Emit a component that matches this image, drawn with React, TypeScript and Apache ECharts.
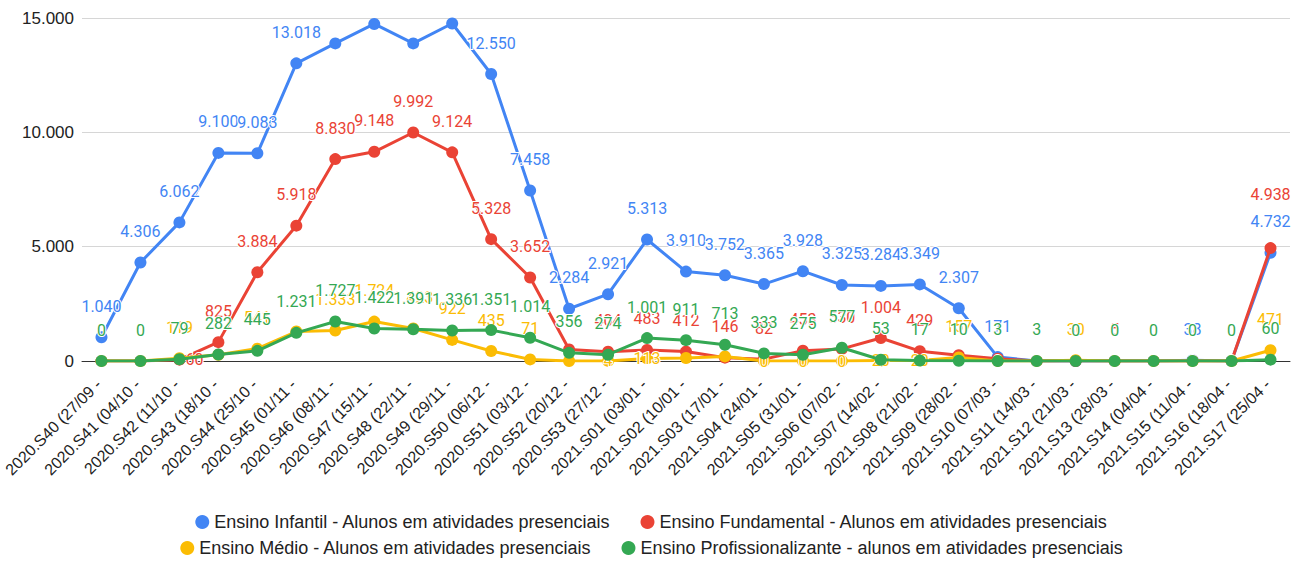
import React, { useEffect, useRef } from "react";
import * as echarts from "echarts";

const categories = [
  "2020.S40 (27/09 -", "2020.S41 (04/10 -", "2020.S42 (11/10 -", "2020.S43 (18/10 -",
  "2020.S44 (25/10 -", "2020.S45 (01/11 -", "2020.S46 (08/11 -", "2020.S47 (15/11 -",
  "2020.S48 (22/11 -", "2020.S49 (29/11 -", "2020.S50 (06/12 -", "2020.S51 (03/12 -",
  "2020.S52 (20/12 -", "2020.S53 (27/12 -", "2021.S01 (03/01 -", "2021.S02 (10/01 -",
  "2021.S03 (17/01 -", "2021.S04 (24/01 -", "2021.S05 (31/01 -", "2021.S06 (07/02 -",
  "2021.S07 (14/02 -", "2021.S08 (21/02 -", "2021.S09 (28/02 -", "2021.S10 (07/03 -",
  "2021.S11 (14/03 -", "2021.S12 (21/03 -", "2021.S13 (28/03 -", "2021.S14 (04/04 -",
  "2021.S15 (11/04 -", "2021.S16 (18/04 -", "2021.S17 (25/04 -",
];

const seriesNames = [
  "Ensino Infantil - Alunos em atividades presenciais",
  "Ensino Fundamental - Alunos em atividades presenciais",
  "Ensino Médio - Alunos em atividades presenciais",
  "Ensino Profissionalizante - alunos em atividades presenciais",
];

const infantil = [1040, 4306, 6062, 9100, 9083, 13018, 13890, 14740, 13890, 14760, 12550, 7458, 2284, 2921, 5313, 3910, 3752, 3365, 3928, 3325, 3284, 3349, 2307, 171, 0, 0, 0, 0, 38, 0, 4732];
const fundamental = [0, 0, 60, 825, 3884, 5918, 8830, 9148, 9992, 9124, 5328, 3652, 500, 404, 483, 412, 146, 82, 453, 530, 1004, 429, 250, 100, 0, 0, 5, 0, 0, 0, 4938];
const medio = [0, 0, 119, 270, 541, 1290, 1333, 1724, 1423, 922, 435, 71, 0, 4, 113, 130, 200, 0, 0, 0, 20, 20, 157, 0, 0, 30, 0, 0, 0, 0, 471];
const profissional = [0, 0, 79, 282, 445, 1231, 1727, 1422, 1391, 1336, 1351, 1014, 356, 274, 1001, 911, 713, 333, 275, 577, 53, 17, 10, 3, 3, 0, 0, 0, 0, 0, 60];

const yTicks = [0, 5000, 10000, 15000];

// label visibility / placement (indices)
const infantilHidden = [6, 7, 8, 9, 24, 25, 26, 27, 29];
const fundamentalHidden = [0, 1, 12, 22, 23, 24, 25, 27, 28, 29];
const fundamentalRight = [2];
const fundamentalRaised = [30];
const medioHidden = [3, 5, 12, 15, 16];
const medioInside = [0, 1, 13, 14, 17, 18, 19, 20, 21, 23, 24, 26, 27, 28, 29];

const colors = ["#4285F4", "#EA4335", "#FBBC04", "#34A853"];
const FONT = "Liberation Sans, Arial, sans-serif";

const fmt = (v: number) => String(v).replace(/\B(?=(\d{3})+(?!\d))/g, ".");

function build(values: number[], hidden: number[], inside: number[] = [], right: number[] = [], raised: number[] = []) {
  return values.map((v, i) => {
    if (hidden.includes(i)) return { value: v, label: { show: false } };
    if (inside.includes(i)) return { value: v, label: { position: "inside" } };
    if (right.includes(i)) return { value: v, label: { position: "right", distance: 0 } };
    if (raised.includes(i)) return { value: v, label: { distance: 40 } };
    return { value: v };
  });
}

export default function App() {
  const ref = useRef<HTMLDivElement>(null);
  useEffect(() => {
    if (!ref.current) return;
    const chart = echarts.init(ref.current, undefined, { renderer: "svg" });
    const mk = (idx: number, data: any[]) => ({
      name: seriesNames[idx],
      type: "line",
      data,
      color: colors[idx],
      symbol: "circle",
      symbolSize: 12,
      lineStyle: { width: 3 },
      z: 2 + idx,
      label: {
        show: true,
        position: "top",
        distance: 17,
        color: colors[idx],
        fontFamily: "Roboto",
        fontSize: 16,
        textBorderColor: "#fff",
        textBorderWidth: 2,
        formatter: (p: any) => fmt(p.value),
      },
    });
    const legendBase = {
      left: "center",
      icon: "circle",
      itemWidth: 14,
      itemHeight: 14,
      itemGap: 30,
      padding: 0,
      textStyle: { color: "#222", fontSize: 18, fontFamily: FONT },
    };
    chart.setOption({
      animation: false,
      backgroundColor: "#fff",
      grid: { left: 82, right: 13, top: 18, bottom: 200, outerBoundsMode: "none", containLabel: false },
      xAxis: {
        type: "category",
        data: categories,
        boundaryGap: true,
        axisTick: { show: false },
        axisLine: { lineStyle: { color: "#333", width: 1 } },
        axisLabel: {
          interval: 0,
          rotate: 45,
          margin: 18,
          padding: [0, 4, 0, 0],
          color: "#222",
          fontFamily: FONT,
          fontSize: 16,
        },
      },
      yAxis: {
        type: "value",
        min: yTicks[0],
        max: yTicks[yTicks.length - 1],
        interval: 5000,
        axisLine: { show: false },
        axisTick: { show: false },
        splitLine: { lineStyle: { color: "#d6d6d6", width: 1 } },
        axisLabel: {
          margin: 8,
          color: "#222",
          fontFamily: FONT,
          fontSize: 17,
          formatter: (v: number) => fmt(v),
        },
      },
      legend: [
        { ...legendBase, data: [seriesNames[0], seriesNames[1]], top: 513 },
        { ...legendBase, data: [seriesNames[2], seriesNames[3]], top: 539 },
      ],
      series: [
        mk(0, build(infantil, infantilHidden)),
        mk(1, build(fundamental, fundamentalHidden, [], fundamentalRight, fundamentalRaised)),
        mk(2, build(medio, medioHidden, medioInside)),
        mk(3, build(profissional, [])),
      ],
    });
    return () => chart.dispose();
  }, []);
  return (
    <div
      ref={ref}
      style={{ position: "absolute", left: 0, top: 0, width: 1303, height: 561, background: "#fff" }}
    />
  );
}
